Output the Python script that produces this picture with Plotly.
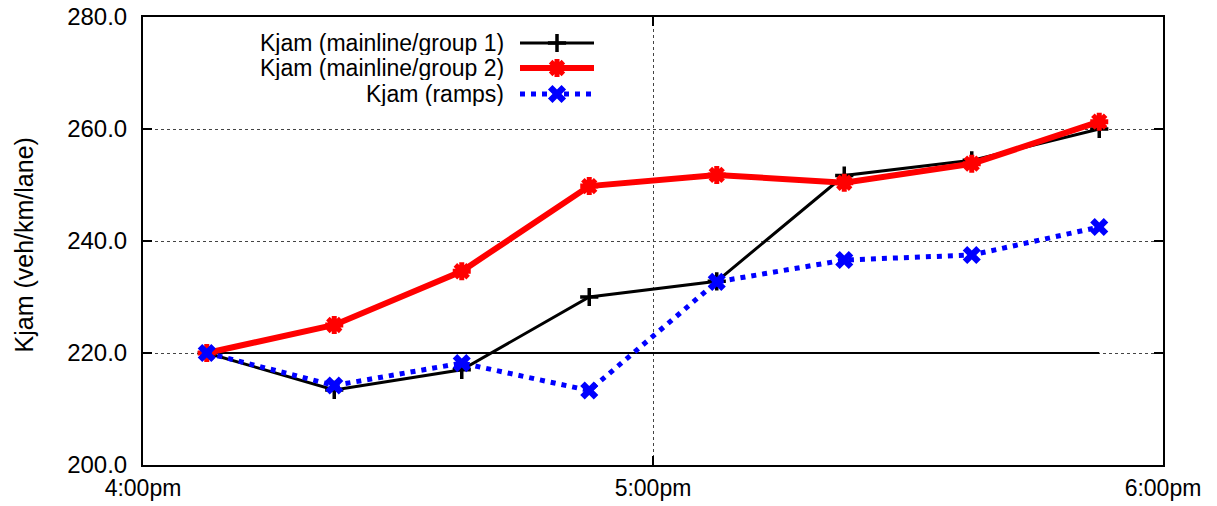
import plotly.graph_objects as go

# Time of each 15-minute sample (bin centres), afternoon peak
times = ["16:07:30", "16:22:30", "16:37:30", "16:52:30",
         "17:07:30", "17:22:30", "17:37:30", "17:52:30"]

kjam_group1 = [220.0, 213.4, 217.0, 230.0, 232.8, 251.7, 254.4, 260.0]
kjam_group2 = [220.0, 225.0, 234.6, 249.8, 251.8, 250.4, 253.8, 261.3]
kjam_ramps = [220.0, 214.2, 218.2, 213.3, 232.7, 236.6, 237.5, 242.5]

series_names = ["Kjam (mainline/group 1)", "Kjam (mainline/group 2)", "Kjam (ramps)"]
reference_kjam = 220.0

y_ticks = [200, 220, 240, 260, 280]
x_tick_times = ["16:00", "17:00", "18:00"]
x_tick_labels = ["4:00pm", "5:00pm", "6:00pm"]

DAY = "2000-01-01 "
x = [DAY + t for t in times]

FONT = "Liberation Sans, Arial, Helvetica, sans-serif"

styles = [
    dict(line=dict(color="black", width=3),
         marker=dict(symbol="cross-thin-open", size=13, color="black",
                     line=dict(color="black", width=3.5))),
    dict(line=dict(color="#ff0000", width=6),
         marker=dict(symbol="asterisk-open", size=15, color="#ff0000",
                     line=dict(color="#ff0000", width=5))),
    dict(line=dict(color="#0000ff", width=5, dash="5px,6px"),
         marker=dict(symbol="x", size=16, color="#0000ff",
                     line=dict(width=0))),
]

fig = go.Figure()

# Reference level across the observed period
fig.add_trace(go.Scatter(
    x=[x[0], x[-1]], y=[reference_kjam, reference_kjam],
    mode="lines", line=dict(color="black", width=2),
    showlegend=False, hoverinfo="skip"))

for name, vals, st in zip(series_names, [kjam_group1, kjam_group2, kjam_ramps], styles):
    fig.add_trace(go.Scatter(x=x, y=vals, mode="lines+markers", name=name,
                             showlegend=False, **st))

# Gnuplot-style key: text on the left, line sample on the right
row_y = [(465 - 43) / 448, (465 - 68) / 448, (465 - 94) / 448]
for name, st, ry in zip(series_names, styles, row_y):
    fig.add_trace(go.Scatter(
        x=[0, 0.5, 1], y=[ry, ry, ry], xaxis="x2", yaxis="y2",
        mode="lines", line=st["line"], showlegend=False, hoverinfo="skip"))
    fig.add_trace(go.Scatter(
        x=[0.5], y=[ry], xaxis="x2", yaxis="y2",
        mode="markers", marker=st["marker"], showlegend=False, hoverinfo="skip"))
    fig.add_annotation(text=name, xref="paper", yref="paper",
                       x=(506 - 143) / 1020, y=ry, xanchor="right", yanchor="middle",
                       height=24, showarrow=False,
                       font=dict(family=FONT, size=23, color="black"))

fig.add_annotation(text="Kjam (veh/km/lane)", xref="paper", yref="paper",
                   x=(24 - 143) / 1020, y=0.49, textangle=-90,
                   xanchor="center", yanchor="middle", showarrow=False,
                   font=dict(family=FONT, size=25, color="black"))

axis_common = dict(
    showline=True, linecolor="black", linewidth=2, mirror="ticks",
    ticks="inside", ticklen=9, tickwidth=2, tickcolor="black",
    showgrid=True, gridcolor="#444444", gridwidth=1, griddash="dot",
    zeroline=False, automargin=False,
)

fig.update_layout(
    width=1217, height=506,
    margin=dict(l=143, r=54, t=17, b=41),
    paper_bgcolor="white", plot_bgcolor="rgba(0,0,0,0)",
    xaxis=dict(type="date", range=[DAY + "16:00", DAY + "18:00"],
               tickmode="array", tickvals=[DAY + t for t in x_tick_times],
               ticktext=x_tick_labels, ticklabelstandoff=1,
               tickfont=dict(family=FONT, size=23, color="black"), **axis_common),
    yaxis=dict(range=[200, 280], tickmode="array", tickvals=y_ticks,
               ticktext=[f"{v:.1f}" for v in y_ticks], ticklabelstandoff=9,
               tickfont=dict(family=FONT, size=24, color="black"), **axis_common),
    xaxis2=dict(domain=[(520 - 143) / 1020, (594 - 143) / 1020], range=[0, 1],
                anchor="y2", visible=False, fixedrange=True),
    yaxis2=dict(domain=[0, 1], range=[0, 1], anchor="x2", overlaying="y",
                visible=False, fixedrange=True),
    showlegend=False,
)

fig.write_html("out.html")
